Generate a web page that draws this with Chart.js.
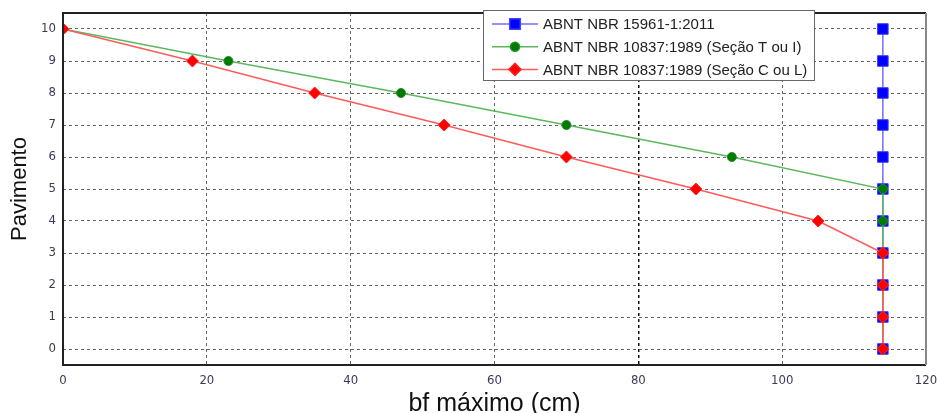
<!DOCTYPE html>
<html>
<head>
<meta charset="utf-8">
<script src="https://cdn.jsdelivr.net/npm/chart.js@4/dist/chart.umd.min.js"></script>
<style>
  html, body { margin: 0; padding: 0; background: #fff; }
  #wrap { width: 938px; height: 413px; position: relative; }
</style>
</head>
<body>
<div id="wrap"><canvas id="c"></canvas></div>
<script>
// ====== DATA ======
const pavimentos = [10, 9, 8, 7, 6, 5, 4, 3, 2, 1, 0];
const bfNBR15961 = [114, 114, 114, 114, 114, 114, 114, 114, 114, 114, 114];
const bfSecaoT   = [0, 23, 47, 70, 93, 114, 114, 114, 114, 114, 114];
const bfSecaoC   = [0, 18, 35, 53, 70, 88, 105, 114, 114, 114, 114];
const xTicks = [0, 20, 40, 60, 80, 100, 120];
const yTicks = [0, 1, 2, 3, 4, 5, 6, 7, 8, 9, 10];
const labels = [
  'ABNT NBR 15961-1:2011',
  'ABNT NBR 10837:1989 (Seção T ou I)',
  'ABNT NBR 10837:1989 (Seção C ou L)'
];

const pts = xs => xs.map((x, i) => ({ x, y: pavimentos[i] }));
const FONT = '"Liberation Sans", Arial, sans-serif';
const TICKFONT = '"Liberation Sans Narrow", "DejaVu Sans Condensed", "Liberation Sans", Arial, sans-serif';

// ====== PLUGINS ======
// box round the plot area
const framePlugin = {
  id: 'frame',
  afterDatasetsDraw(chart) {
    const { ctx, chartArea: a } = chart;
    ctx.save();
    ctx.lineWidth = 2;
    ctx.strokeStyle = '#222';
    ctx.beginPath();
    ctx.moveTo(a.right, a.top);
    ctx.lineTo(a.left, a.top);
    ctx.lineTo(a.left, a.bottom);
    ctx.lineTo(a.right, a.bottom);
    ctx.stroke();
    ctx.strokeStyle = '#888';
    ctx.beginPath();
    ctx.moveTo(a.right, a.top);
    ctx.lineTo(a.right, a.bottom);
    ctx.stroke();
    ctx.restore();
  }
};

// legend box inside the plot, matlab style
const boxLegend = {
  id: 'boxLegend',
  afterDraw(chart) {
    const { ctx } = chart;
    const x0 = 483, y0 = 10, w = 331, h = 70, rowH = 22.7;
    ctx.save();
    ctx.fillStyle = '#fff';
    ctx.fillRect(x0, y0, w, h);
    ctx.lineWidth = 1;
    ctx.strokeStyle = '#666';
    ctx.strokeRect(x0 + 0.5, y0 + 0.5, w, h);
    chart.data.datasets.forEach((ds, i) => {
      const y = y0 + 14 + i * rowH;
      ctx.strokeStyle = ds.borderColor;
      ctx.lineWidth = 1.5;
      ctx.beginPath();
      ctx.moveTo(x0 + 9, y);
      ctx.lineTo(x0 + 55, y);
      ctx.stroke();
      ctx.fillStyle = ds.pointBackgroundColor;
      ctx.strokeStyle = ds.pointBorderColor;
      Chart.helpers.drawPoint(ctx, {
        pointStyle: ds.pointStyle,
        radius: ds.pointRadius,
        borderWidth: ds.pointBorderWidth,
        rotation: 0
      }, x0 + 32, y);
      ctx.fillStyle = '#222';
      ctx.font = '15px ' + FONT;
      ctx.textBaseline = 'middle';
      ctx.fillText(ds.label, x0 + 60, y + 1);
    });
    ctx.restore();
  }
};

// ====== CHART ======
new Chart(document.getElementById('c'), {
  type: 'line',
  data: {
    datasets: [
      {
        label: labels[0], data: pts(bfNBR15961), order: 2,
        borderColor: '#7070ff', borderWidth: 1.5,
        pointStyle: 'rect', pointRadius: 7.5, pointBorderWidth: 1,
        pointBackgroundColor: '#0000ff', pointBorderColor: '#4040ff'
      },
      {
        label: labels[1], data: pts(bfSecaoT), order: 1,
        borderColor: '#5cb85c', borderWidth: 1.5,
        pointStyle: 'circle', pointRadius: 4.5, pointBorderWidth: 1,
        pointBackgroundColor: '#007a00', pointBorderColor: '#1f8f1f'
      },
      {
        label: labels[2], data: pts(bfSecaoC), order: 0,
        borderColor: '#ff5a5a', borderWidth: 1.5,
        pointStyle: 'rectRot', pointRadius: 6, pointBorderWidth: 1,
        pointBackgroundColor: '#ff0000', pointBorderColor: '#ff2020'
      }
    ]
  },
  options: {
    responsive: true,
    maintainAspectRatio: false,
    animation: false,
    layout: { padding: { top: 13, right: 12, left: 0, bottom: 0 } },
    plugins: { legend: { display: false }, tooltip: { enabled: false } },
    elements: { line: { tension: 0 } },
    scales: {
      x: {
        type: 'linear', min: 0, max: 120,
        afterBuildTicks: s => { s.ticks = xTicks.map(v => ({ value: v })); },
        afterFit: s => { s.height = 48; s.paddingRight = 0; s.paddingLeft = 0; },
        grid: {
          drawTicks: false,
          color: c => c.tick && c.tick.value === 80 ? '#111' : '#666',
          lineWidth: c => c.tick && c.tick.value === 80 ? 1.5 : 1
        },
        border: { display: false, dash: [3, 3] },
        ticks: { padding: 8, color: '#3a3a55', font: { family: TICKFONT, size: 13 } },
        title: {
          display: true, text: 'bf máximo (cm)', color: '#111',
          font: { family: FONT, size: 25, lineHeight: 1 }, padding: { top: 0, bottom: -4 }
        }
      },
      y: {
        type: 'linear', min: -0.5, max: 10.5,
        afterBuildTicks: s => { s.ticks = yTicks.map(v => ({ value: v })); },
        afterFit: s => { s.width = 63; s.paddingTop = 0; s.paddingBottom = 0; },
        grid: { drawTicks: false, color: '#666' },
        border: { display: false, dash: [3, 3] },
        ticks: { padding: 7, color: '#3a3a55', font: { family: TICKFONT, size: 13 } },
        title: {
          display: true, text: 'Pavimento', color: '#111',
          font: { family: FONT, size: 22 }, padding: { top: 7, bottom: 0 }
        }
      }
    }
  },
  plugins: [framePlugin, boxLegend]
});
</script>
</body>
</html>
